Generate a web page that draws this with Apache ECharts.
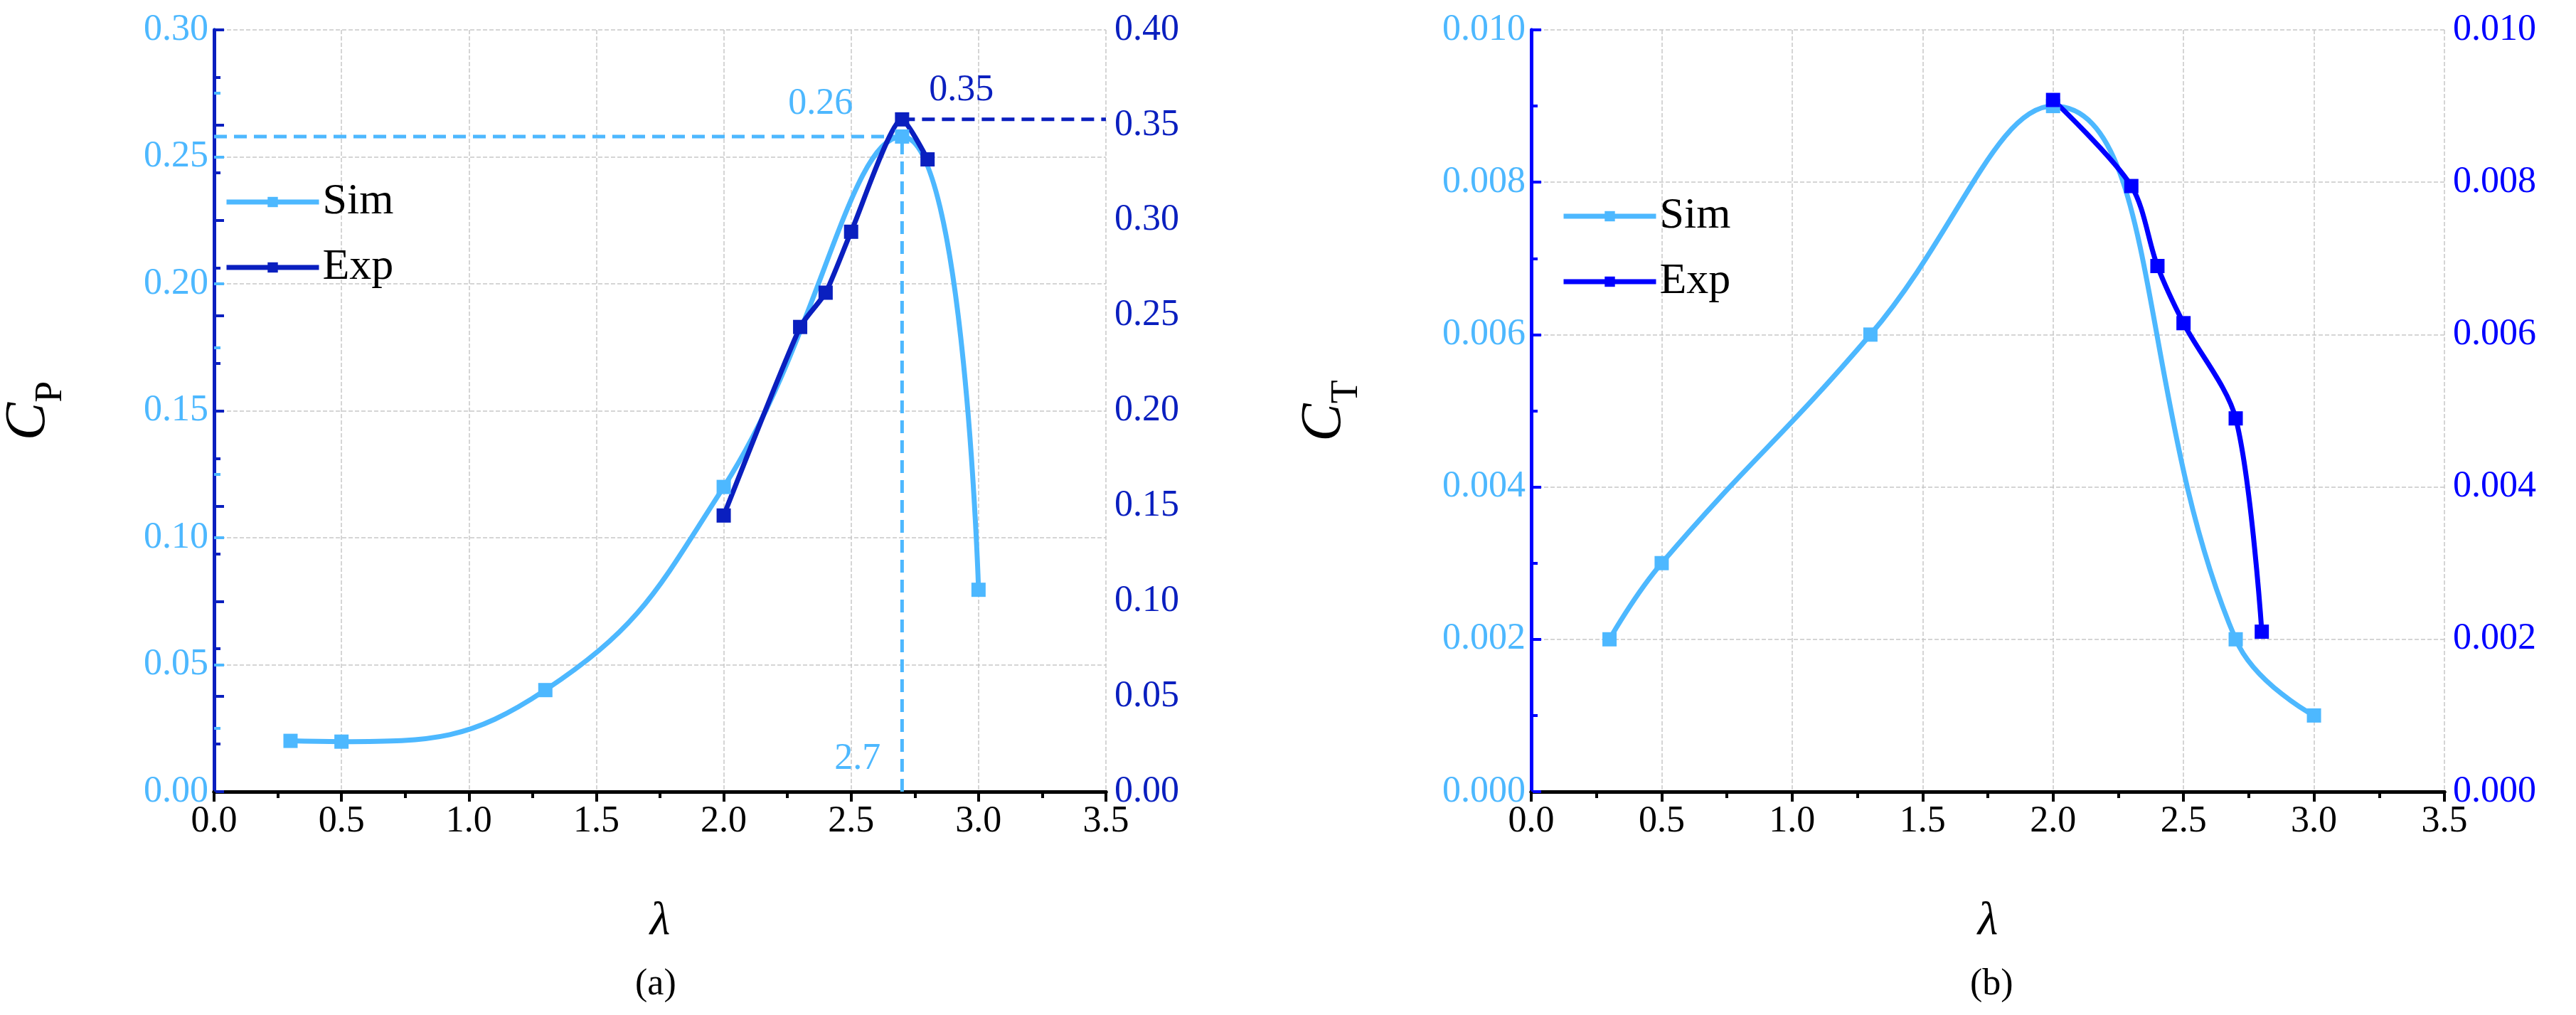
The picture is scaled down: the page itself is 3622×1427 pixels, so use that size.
<!DOCTYPE html>
<html><head><meta charset="utf-8">
<script src="https://cdn.jsdelivr.net/npm/echarts@6/dist/echarts.min.js"></script>
<style>html,body{margin:0;background:#fff}#main{width:3622px;height:1427px}</style>
</head><body><div id="main"></div>
<script>
var LIGHT = '#4db8ff', NAVY = '#0a1fbf', BLUE = '#0000ff';
var FONT = 'Liberation Serif';
// panel (a)
var cpSim = [[0.3,0.02],[0.5,0.0197],[1.3,0.04],[2.0,0.12],[2.7,0.258],[3.0,0.0795]];
var cpExp = [[2.0,0.145],[2.3,0.244],[2.4,0.262],[2.5,0.294],[2.7,0.353],[2.8,0.332]];
// panel (b)
var ctSim = [[0.3,0.002],[0.5,0.003],[1.3,0.006],[2.0,0.009],[2.7,0.002],[3.0,0.001]];
var ctExp = [[2.0,0.00908],[2.3,0.00795],[2.4,0.0069],[2.5,0.00615],[2.7,0.0049],[2.8,0.0021]];

var chart = echarts.init(document.getElementById('main'));
var grids = [{left:273, top:42, width:1282, height:1071}, {left:2153, top:42, width:1284, height:1071}];

function xAxes(gi) {
    return [{
        gridIndex: gi, type:'value', min:0, max:3.5, interval:0.5, position:'bottom',
        name:'λ', nameLocation:'middle', nameGap:150,
        nameTextStyle:{fontFamily:FONT, fontStyle:'italic', fontSize:66, color:'#000'},
        axisLine:{show:true, lineStyle:{color:'#000', width:5}},
        axisTick:{show:true, length:14, lineStyle:{color:'#000', width:4}},
        minorTick:{show:true, splitNumber:2, length:9, lineStyle:{color:'#000', width:4}},
        axisLabel:{fontFamily:FONT, fontSize:52, color:'#000', margin:16, formatter:function(v){return v.toFixed(1);}},
        splitLine:{show:true, lineStyle:{color:'#c8c8c8', type:'dashed', width:1.5}}
    }, {
        gridIndex: gi, type:'value', min:0, max:3.5, interval:0.5, position:'top',
        axisLine:{show:true, lineStyle:{color:'#000', width:5}},
        axisTick:{show:true, inside:true, length:14, lineStyle:{color:'#000', width:4}},
        minorTick:{show:true, splitNumber:2, length:9, lineStyle:{color:'#000', width:4}},
        axisLabel:{show:false}, splitLine:{show:false}
    }];
}
function yAxes(gi, name, lmax, lint, rmax, rint, rcol, dec) {
    return [{
        gridIndex: gi, type:'value', min:0, max:lmax, interval:lint, position:'left',
        name:'{c|C}{s|' + name + '}', nameLocation:'middle', nameGap:lmax < 0.1 ? 250 : 220, nameRotate:90,
        nameTextStyle:{rich:{c:{fontFamily:FONT, fontStyle:'italic', fontSize:80, color:'#000'},
                             s:{fontFamily:FONT, fontSize:54, color:'#000', verticalAlign:'bottom', padding:[0,0,-18,0]}}},
        axisLine:{show:true, lineStyle:{color:LIGHT, width:5}},
        axisTick:{show:true, inside:true, length:14, lineStyle:{color:LIGHT, width:4}},
        minorTick:{show:true, splitNumber:2, length:9, lineStyle:{color:LIGHT, width:4}},
        axisLabel:{fontFamily:FONT, fontSize:52, color:LIGHT, margin:8, formatter:function(v){return v.toFixed(dec);}},
        splitLine:{show:true, lineStyle:{color:'#c8c8c8', type:'dashed', width:1.5}}
    }, {
        gridIndex: gi, type:'value', min:0, max:rmax, interval:rint, position:'right',
        axisLine:{show:true, lineStyle:{color:rcol, width:5}},
        axisTick:{show:true, length:14, lineStyle:{color:rcol, width:4}},
        minorTick:{show:true, splitNumber:2, length:9, lineStyle:{color:rcol, width:4}},
        axisLabel:{fontFamily:FONT, fontSize:52, color:rcol, margin:12, formatter:function(v){return v.toFixed(dec);}},
        splitLine:{show:false}
    }];
}
function line(name, data, color, xi, yi, smooth) {
    return {name:name, type:'line', data:data, xAxisIndex:xi, yAxisIndex:yi, smooth:smooth,
        symbol:'rect', symbolSize:20, showSymbol:true, z:3,
        lineStyle:{color:color, width:7}, itemStyle:{color:color}};
}
function dashed(data, color, xi, yi) {
    return {type:'line', data:data, xAxisIndex:xi, yAxisIndex:yi, symbol:'none', silent:true,
        lineStyle:{color:color, width:5, type:[18,10]}, z:2};
}
var legendBase = {orient:'vertical', itemGap:30, itemWidth:130, itemHeight:18, selectedMode:false,
    lineStyle:{width:7}, textStyle:{fontFamily:FONT, fontSize:62, color:'#000'}};

var option = {
    animation:false,
    textStyle:{fontFamily:FONT},
    grid: grids,
    xAxis: xAxes(0).concat(xAxes(1)),
    yAxis: yAxes(0, 'P', 0.30, 0.05, 0.40, 0.05, NAVY, 2).concat(yAxes(1, 'T', 0.010, 0.002, 0.010, 0.002, BLUE, 3)),
    legend: [
        Object.assign({}, legendBase, {data:['Sim','Exp'], left:310, top:248}),
        Object.assign({}, legendBase, {data:['Sim ','Exp '], left:2190, top:268})
    ],
    series: [
        dashed([[0,0.258],[2.7,0.258]], LIGHT, 0, 0),
        dashed([[2.7,0],[2.7,0.258]], LIGHT, 0, 0),
        dashed([[2.7,0.353],[3.5,0.353]], NAVY, 0, 1),
        line('Sim', cpSim, LIGHT, 0, 0, 0.45),
        line('Exp', cpExp, NAVY, 0, 1, 0.2),
        line('Sim ', ctSim, LIGHT, 2, 2, 0.45),
        line('Exp ', ctExp, BLUE, 2, 3, 0.3)
    ]
};
chart.setOption(option);

var p1 = chart.convertToPixel({xAxisIndex:0, yAxisIndex:0}, [2.7, 0.258]);
var p2 = chart.convertToPixel({xAxisIndex:0, yAxisIndex:0}, [2.7, 0]);
var p3 = chart.convertToPixel({xAxisIndex:0, yAxisIndex:1}, [2.7, 0.353]);
var ts = function(t, c){return {fontFamily:FONT, fontSize:52, fill:c, text:t};};
chart.setOption({graphic:[
    {type:'text', left:p1[0]-160, top:p1[1]-72, style:ts('0.26', LIGHT)},
    {type:'text', left:p2[0]-95, top:p2[1]-72, style:ts('2.7', LIGHT)},
    {type:'text', left:p3[0]+38, top:p3[1]-66, style:ts('0.35', NAVY)},
    {type:'text', left:893, top:1358, style:{fontFamily:FONT, fontSize:52, fill:'#000', text:'(a)'}},
    {type:'text', left:2770, top:1358, style:{fontFamily:FONT, fontSize:52, fill:'#000', text:'(b)'}}
]});
</script></body></html>
